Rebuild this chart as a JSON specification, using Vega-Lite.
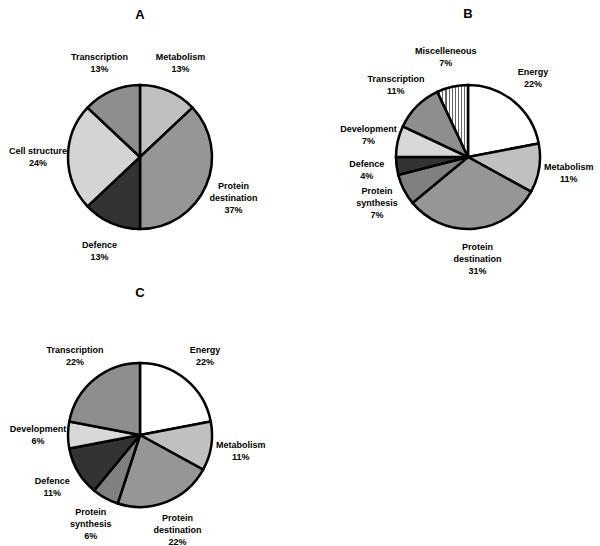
{
  "$schema": "https://vega.github.io/schema/vega-lite/v6.json",
  "padding": {"left": 8, "top": 8, "right": 5, "bottom": 5},
  "data": {"values": [
    {"panel": "A", "k": 1, "category": "Metabolism", "value": 13, "label": "Metabolism\n13%"},
    {"panel": "A", "k": 2, "category": "Protein destination", "value": 37, "label": "Protein\ndestination\n37%"},
    {"panel": "A", "k": 3, "category": "Defence", "value": 13, "label": "Defence\n13%"},
    {"panel": "A", "k": 4, "category": "Cell structure", "value": 24, "label": "Cell structure\n24%"},
    {"panel": "A", "k": 5, "category": "Transcription", "value": 13, "label": "Transcription\n13%"},
    {"panel": "B", "k": 1, "category": "Energy", "value": 22, "label": "Energy\n22%"},
    {"panel": "B", "k": 2, "category": "Metabolism", "value": 11, "label": "Metabolism\n11%"},
    {"panel": "B", "k": 3, "category": "Protein destination", "value": 31, "label": "Protein\ndestination\n31%"},
    {"panel": "B", "k": 4, "category": "Protein synthesis", "value": 7, "label": "Protein\nsynthesis\n7%"},
    {"panel": "B", "k": 5, "category": "Defence", "value": 4, "label": "Defence\n4%"},
    {"panel": "B", "k": 6, "category": "Development", "value": 7, "label": "Development\n7%"},
    {"panel": "B", "k": 7, "category": "Transcription", "value": 11, "label": "Transcription\n11%"},
    {"panel": "B", "k": 8, "category": "Miscelleneous", "value": 7, "label": "Miscelleneous\n7%"},
    {"panel": "C", "k": 1, "category": "Energy", "value": 22, "label": "Energy\n22%"},
    {"panel": "C", "k": 2, "category": "Metabolism", "value": 11, "label": "Metabolism\n11%"},
    {"panel": "C", "k": 3, "category": "Protein destination", "value": 22, "label": "Protein\ndestination\n22%"},
    {"panel": "C", "k": 4, "category": "Protein synthesis", "value": 6, "label": "Protein\nsynthesis\n6%"},
    {"panel": "C", "k": 5, "category": "Defence", "value": 11, "label": "Defence\n11%"},
    {"panel": "C", "k": 6, "category": "Development", "value": 6, "label": "Development\n6%"},
    {"panel": "C", "k": 7, "category": "Transcription", "value": 22, "label": "Transcription\n22%"}
  ]},
  "facet": {
    "field": "panel",
    "type": "nominal",
    "title": null,
    "header": {"labelFont": "Liberation Sans", "labelFontSize": 13, "labelFontWeight": "bold", "labelColor": "black", "labelPadding": 20}
  },
  "columns": 2,
  "bounds": "flush",
  "spacing": {"row": 48, "column": 88},
  "spec": {
    "width": 240,
    "height": 230,
    "encoding": {
      "theta": {"field": "value", "type": "quantitative", "stack": true},
      "order": {"field": "k", "type": "quantitative"}
    },
    "layer": [
      {
        "mark": {"type": "arc", "outerRadius": 72, "stroke": "black", "strokeWidth": 2.5},
        "encoding": {
          "color": {
            "condition": {
              "test": "datum.category === 'Miscelleneous'",
              "value": {"gradient": "linear", "x1": 0, "x2": 1, "y1": 0, "y2": 0, "stops": [
                {"offset": 0.0, "color": "#ffffff"}, {"offset": 0.065, "color": "#ffffff"}, {"offset": 0.065, "color": "#666666"}, {"offset": 0.1, "color": "#666666"},
                {"offset": 0.1, "color": "#ffffff"}, {"offset": 0.165, "color": "#ffffff"}, {"offset": 0.165, "color": "#666666"}, {"offset": 0.2, "color": "#666666"},
                {"offset": 0.2, "color": "#ffffff"}, {"offset": 0.265, "color": "#ffffff"}, {"offset": 0.265, "color": "#666666"}, {"offset": 0.3, "color": "#666666"},
                {"offset": 0.3, "color": "#ffffff"}, {"offset": 0.365, "color": "#ffffff"}, {"offset": 0.365, "color": "#666666"}, {"offset": 0.4, "color": "#666666"},
                {"offset": 0.4, "color": "#ffffff"}, {"offset": 0.465, "color": "#ffffff"}, {"offset": 0.465, "color": "#666666"}, {"offset": 0.5, "color": "#666666"},
                {"offset": 0.5, "color": "#ffffff"}, {"offset": 0.565, "color": "#ffffff"}, {"offset": 0.565, "color": "#666666"}, {"offset": 0.6, "color": "#666666"},
                {"offset": 0.6, "color": "#ffffff"}, {"offset": 0.665, "color": "#ffffff"}, {"offset": 0.665, "color": "#666666"}, {"offset": 0.7, "color": "#666666"},
                {"offset": 0.7, "color": "#ffffff"}, {"offset": 0.765, "color": "#ffffff"}, {"offset": 0.765, "color": "#666666"}, {"offset": 0.8, "color": "#666666"},
                {"offset": 0.8, "color": "#ffffff"}, {"offset": 0.865, "color": "#ffffff"}, {"offset": 0.865, "color": "#666666"}, {"offset": 0.9, "color": "#666666"},
                {"offset": 0.9, "color": "#ffffff"}, {"offset": 0.965, "color": "#ffffff"}, {"offset": 0.965, "color": "#666666"}, {"offset": 1.0, "color": "#666666"}
              ]}
            },
            "field": "category",
            "type": "nominal",
            "legend": null,
            "scale": {
              "domain": ["Energy", "Metabolism", "Protein destination", "Protein synthesis", "Defence", "Development", "Cell structure", "Transcription", "Miscelleneous"],
              "range": ["#ffffff", "#c0c0c0", "#969696", "#808080", "#333333", "#d8d8d8", "#d4d4d4", "#8e8e8e", "#e2e2e2"]
            }
          }
        }
      },
      {
        "mark": {"type": "text", "radius": 102, "dy": -6, "font": "Liberation Sans", "fontSize": 9, "fontWeight": "bold", "fill": "black", "lineBreak": "\n", "lineHeight": 12, "align": "center", "baseline": "middle"},
        "encoding": {
          "detail": {"field": "category", "type": "nominal"},
          "text": {"field": "label", "type": "nominal"},
          "opacity": {"condition": {"test": "datum.category === 'Protein destination' || datum.category === 'Protein synthesis'", "value": 0}, "value": 1}
        }
      },
      {
        "mark": {"type": "text", "radius": 102, "dy": -12, "font": "Liberation Sans", "fontSize": 9, "fontWeight": "bold", "fill": "black", "lineBreak": "\n", "lineHeight": 12, "align": "center", "baseline": "middle"},
        "encoding": {
          "detail": {"field": "category", "type": "nominal"},
          "text": {"field": "label", "type": "nominal"},
          "opacity": {"condition": {"test": "datum.category === 'Protein destination' || datum.category === 'Protein synthesis'", "value": 1}, "value": 0}
        }
      }
    ]
  },
  "config": {"view": {"stroke": null}}
}
